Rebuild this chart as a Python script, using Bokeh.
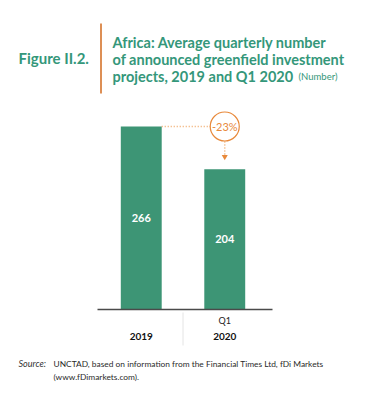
from bokeh.plotting import figure
from bokeh.models import Range1d, Label, ColumnDataSource, BoxAnnotation
from bokeh.core.properties import value
from bokeh.embed import file_html
from bokeh.resources import INLINE

# ---- data ----
years = ["2019", "2020"]
quarters = ["", "Q1"]
values = [266, 204]
figure_label = "Figure II.2."
title_lines = ["Africa: Average quarterly number",
               "of announced greenfield investment",
               "projects, 2019 and Q1 2020"]
unit_label = "(Number)"
source_prefix = "Source:"
source_lines = ["UNCTAD, based on information from the Financial Times Ltd, fDi Markets",
                "(www.fDimarkets.com)."]

change = (values[1] / values[0] - 1) * 100
change_label = f"{change:.0f}%"
idx = list(range(len(years)))

# ---- style / layout ----
FONT = "Lato"
GREEN = "#3d9575"
TITLE_GREEN = "#34977a"
ORANGE = "#e8893a"
BAR_ORANGE = "#dd8f55"
DOT = "#f0a868"

W, H = 381, 395
BASE_PY = 309          # pixel row of the baseline
UNIT_PX = 83.5         # pixels between category centres
FIRST_PX = 140.75      # pixel column of first category centre
PX_PER_VAL = 183 / 266  # vertical scale
BAR_W = 0.49


def sx(px):
    return px


def sy(py):
    return H - py


def dx(px):  # pixel column -> data x
    return (px - FIRST_PX) / UNIT_PX


def dy(py):  # pixel row -> data y
    return (BASE_PY - py) / PX_PER_VAL


p = figure(width=W, height=H,
           x_range=Range1d(dx(0), dx(W)),
           y_range=Range1d(dy(H), dy(0)),
           output_backend="svg", toolbar_location=None,
           x_axis_location=None, y_axis_location=None,
           min_border=0)
p.grid.grid_line_color = None
p.outline_line_color = None
p.background_fill_color = "white"
p.border_fill_color = "white"

src = ColumnDataSource(dict(x=idx, top=values,
                            mid=[v / 2 for v in values],
                            lbl=[str(v) for v in values],
                            year=years, q=quarters))

# dotted connector from bar 1 top to circle
p.segment(x0=[idx[0] + BAR_W / 2], y0=[values[0]], x1=[idx[1]], y1=[values[0]],
          line_color=DOT, line_width=1.5, line_dash="1 2")
# vertical dotted down to arrow
p.segment(x0=[idx[1]], y0=[values[0]], x1=[idx[1]], y1=[values[1] + 18],
          line_color=DOT, line_width=1.5, line_dash="1 2")
p.scatter(x=[idx[1]], y=[values[1] + 18], marker="inverted_triangle", size=6,
          fill_color=ORANGE, line_color=None)

p.vbar(x="x", top="top", width=BAR_W, source=src, fill_color=GREEN, line_color=None)

p.scatter(x=[idx[1]], y=[values[0]], marker="circle", size=29,
          fill_color="white", line_color=ORANGE, line_width=1.2)
p.text(x=[idx[1]], y=[values[0]], text=[change_label], text_align="center",
       text_baseline="middle", text_color=ORANGE, text_font=value(FONT),
       text_font_size="11px")

p.text(x="x", y="mid", text="lbl", source=src, text_align="center",
       text_baseline="middle", text_color="white", text_font=value(FONT),
       text_font_style="bold", text_font_size="11px")

# baseline (axis line) and category separator
p.segment(x0=[dx(97)], y0=[0], x1=[dx(272)], y1=[0], line_color="#4a4a4a", line_width=1.5)
p.segment(x0=[(idx[0] + idx[1]) / 2], y0=[dy(312)], x1=[(idx[0] + idx[1]) / 2], y1=[dy(345)],
          line_color="#e4e4e4", line_width=1)

# category labels
p.text(x="x", y=0, text="q", source=src, y_offset=11, text_align="center",
       text_baseline="middle", text_color="#222222", text_font=value(FONT),
       text_font_size="9px")
p.text(x="x", y=0, text="year", source=src, y_offset=27, text_align="center",
       text_baseline="middle", text_color="#111111", text_font=value(FONT),
       text_font_style="bold", text_font_size="10px")

# title block
p.add_layout(BoxAnnotation(left=sx(99.5), right=sx(101.5), top=sy(23), bottom=sy(93),
                           left_units="screen", right_units="screen",
                           top_units="screen", bottom_units="screen",
                           fill_color=BAR_ORANGE, fill_alpha=1, line_color=None))
p.add_layout(Label(x=sx(18), y=sy(57), x_units="screen", y_units="screen",
                   text=figure_label, text_font=FONT, text_font_style="bold",
                   text_font_size="15px", text_color=TITLE_GREEN,
                   text_baseline="middle"))
for i, line in enumerate(title_lines):
    p.add_layout(Label(x=sx(112), y=sy(42 + 17.2 * i), x_units="screen", y_units="screen",
                       text=line, text_font=FONT, text_font_style="bold",
                       text_font_size="14.5px", text_color=TITLE_GREEN,
                       text_baseline="alphabetic"))
p.add_layout(Label(x=sx(298), y=sy(76.4), x_units="screen", y_units="screen",
                   text=unit_label, text_font=FONT, text_font_size="9.5px",
                   text_color=TITLE_GREEN, text_baseline="alphabetic"))

# source
p.add_layout(Label(x=sx(18), y=sy(363), x_units="screen", y_units="screen",
                   text=source_prefix, text_font=FONT, text_font_style="italic",
                   text_font_size="9px", text_color="#333333",
                   text_baseline="alphabetic"))
for i, line in enumerate(source_lines):
    p.add_layout(Label(x=sx(53), y=sy(363 + 13 * i), x_units="screen", y_units="screen",
                       text=line, text_font=FONT, text_font_size="8.4px",
                       text_color="#2a2a2a", text_baseline="alphabetic"))

open("out.html", "w").write(file_html(p, INLINE))
